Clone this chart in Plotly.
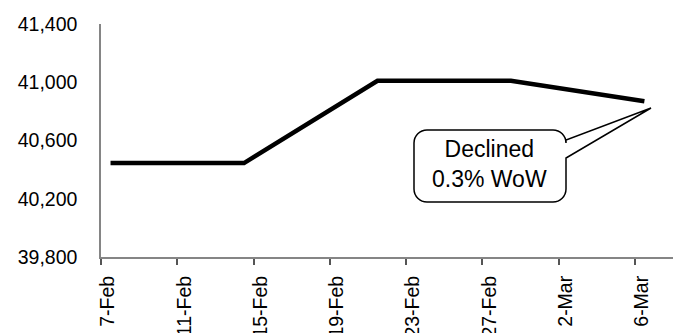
import datetime as dt
import plotly.graph_objects as go

# Weekly index level
dates = ["2012-02-07", "2012-02-14", "2012-02-21", "2012-02-28", "2012-03-06"]
values = [40445, 40445, 41010, 41010, 40870]

y_ticks = [39800, 40200, 40600, 41000, 41400]
callout_text = ["Declined", "0.3% WoW"]

FONT = "Liberation Sans, Arial, sans-serif"
W, H = 681, 333
L, R, T, B = 101, 8, 24, 76
PW, PH = W - L - R, H - T - B

# points sit in the middle of each day slot (between tick marks)
x_pts = [dt.datetime.fromisoformat(d) + dt.timedelta(hours=12) for d in dates]
x_start = dt.datetime(2012, 2, 7)
x_end = dt.datetime(2012, 3, 8)
day_px = PW / (x_end - x_start).days
label_shift = dt.timedelta(days=7 / day_px)

fig = go.Figure()
fig.add_trace(go.Scatter(
    x=x_pts, y=values, mode="lines",
    line=dict(color="black", width=4.5),
    hoverinfo="skip", showlegend=False,
))


def px(xp, yp):
    return (xp - L) / PW, (H - B - yp) / PH


def callout_path(x0, y0, x1, y1, r, wy0, wy1, tip):
    def P(x, y):
        a, b = px(x, y)
        return f"{a:.5f},{b:.5f}"
    kx = 0.5523 * r
    d = f"M {P(x0 + r, y0)} L {P(x1 - r, y0)} "
    d += f"C {P(x1 - r + kx, y0)} {P(x1, y0 + r - kx)} {P(x1, y0 + r)} "
    d += f"L {P(x1, wy0)} L {P(*tip)} L {P(x1, wy1)} "
    d += f"L {P(x1, y1 - r)} "
    d += f"C {P(x1, y1 - r + kx)} {P(x1 - r + kx, y1)} {P(x1 - r, y1)} "
    d += f"L {P(x0 + r, y1)} "
    d += f"C {P(x0 + r - kx, y1)} {P(x0, y1 - r + kx)} {P(x0, y1 - r)} "
    d += f"L {P(x0, y0 + r)} "
    d += f"C {P(x0, y0 + r - kx)} {P(x0 + r - kx, y0)} {P(x0 + r, y0)} Z"
    return d


fig.add_shape(
    type="path", xref="paper", yref="paper",
    path=callout_path(414, 130, 566, 202, 13, 140, 158, (651, 108)),
    line=dict(color="black", width=1.5), fillcolor="white", layer="above",
)
cx, cy = px(489, 164)
fig.add_annotation(
    x=cx, y=cy, xref="paper", yref="paper", showarrow=False,
    xanchor="center", yanchor="middle",
    text="<br>".join(callout_text), align="center",
    font=dict(family=FONT, size=23, color="black"),
)

fig.update_layout(
    width=W, height=H,
    margin=dict(l=L, r=R, t=T, b=B, pad=0),
    paper_bgcolor="white", plot_bgcolor="white",
    font=dict(family=FONT, size=19, color="black"),
    xaxis=dict(
        type="date", range=[x_start, x_end], automargin=False,
        tick0="2012-02-07", dtick=4 * 86400000,
        showgrid=False, zeroline=False,
        showline=True, linecolor="#858585", linewidth=1.5,
        ticks="outside", ticklen=6, tickwidth=1.5, tickcolor="#555555",
        showticklabels=False,
    ),
    xaxis2=dict(
        type="date", overlaying="x", side="bottom", anchor="y",
        automargin=False,
        range=[x_start - label_shift, x_end - label_shift],
        tick0="2012-02-07", dtick=4 * 86400000,
        tickformat="%-d-%b", tickangle=-90,
        showgrid=False, zeroline=False, showline=False,
        ticks="outside", ticklen=10, tickcolor="rgba(0,0,0,0)",
        tickfont=dict(family=FONT, size=19.5, color="black"),
    ),
    yaxis=dict(
        range=[39800, 41400], tickvals=y_ticks, tickformat=",",
        automargin=False,
        showgrid=False, zeroline=False,
        showline=True, linecolor="#858585", linewidth=1.5,
        ticks="", ticklabelstandoff=18,
        tickfont=dict(family=FONT, size=19.5, color="black"),
    ),
)
# invisible trace so the label axis is drawn
fig.add_trace(go.Scatter(x=[x_start], y=[None], xaxis="x2", yaxis="y",
                         mode="lines", showlegend=False, hoverinfo="skip"))

fig.write_html("out.html")
